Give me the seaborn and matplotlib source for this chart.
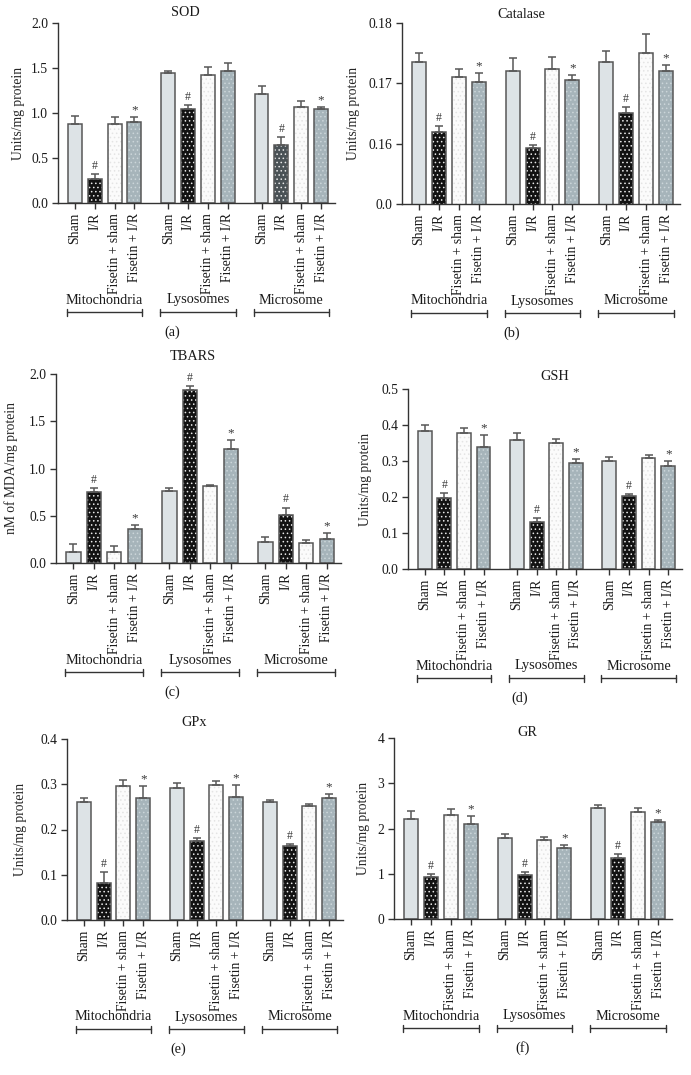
import numpy as np
import pandas as pd
import matplotlib
matplotlib.use("Agg")
import matplotlib.pyplot as plt
import seaborn as sns
from matplotlib.transforms import blended_transform_factory

# ---------------- data ----------------
groups = ["Mitochondria", "Lysosomes", "Microsome"]
treatments = ["Sham", "I/R", "Fisetin + sham", "Fisetin + I/R"]

sod_mean = [0.88, 0.27, 0.88, 0.90, 1.44, 1.05, 1.42, 1.47, 1.21, 0.65, 1.07, 1.04]
sod_err = [0.09, 0.05, 0.08, 0.06, 0.03, 0.04, 0.095, 0.09, 0.09, 0.085, 0.065, 0.025]
sod_marks = ["", "#", "", "*", "", "#", "", "", "", "#", "", "*"]

catalase_mean = [0.1735, 0.1620, 0.1711, 0.1703, 0.1720, 0.1593, 0.1724, 0.1706, 0.1735, 0.1651, 0.1750, 0.1720]
catalase_err = [0.0015, 0.0009, 0.0012, 0.0014, 0.0022, 0.0005, 0.0020, 0.0008, 0.0018, 0.0010, 0.0031, 0.0010]

tbars_mean = [0.12, 0.75, 0.12, 0.36, 0.76, 1.83, 0.81, 1.21, 0.22, 0.51, 0.21, 0.25]
tbars_err = [0.08, 0.04, 0.06, 0.04, 0.03, 0.04, 0.015, 0.09, 0.053, 0.077, 0.032, 0.064]

gsh_mean = [0.383, 0.197, 0.378, 0.339, 0.357, 0.131, 0.350, 0.295, 0.299, 0.203, 0.308, 0.285]
gsh_err = [0.017, 0.015, 0.014, 0.032, 0.021, 0.010, 0.012, 0.011, 0.013, 0.006, 0.008, 0.014]

gpx_mean = [0.261, 0.082, 0.297, 0.270, 0.291, 0.175, 0.299, 0.271, 0.261, 0.163, 0.252, 0.270]
gpx_err = [0.009, 0.023, 0.012, 0.026, 0.011, 0.006, 0.009, 0.027, 0.004, 0.005, 0.005, 0.009]

gr_mean = [2.20, 0.92, 2.30, 2.10, 1.79, 0.97, 1.75, 1.57, 2.46, 1.35, 2.36, 2.14]
gr_err = [0.18, 0.075, 0.14, 0.17, 0.09, 0.075, 0.055, 0.06, 0.05, 0.09, 0.095, 0.045]

all_marks = ["", "#", "", "*"] * 3

# ---------------- style ----------------
sns.set_theme(style="ticks")
plt.rcParams['font.family'] = ['Liberation Serif', 'DejaVu Serif']
plt.rcParams['hatch.linewidth'] = 0.6

W, H = 691, 1075
fig = plt.figure(figsize=(W / 100, H / 100), dpi=100)

fill = {"Sham": "#dde3e6", "I/R": "#121212", "Fisetin + sham": "#fbfbfb", "Fisetin + I/R": "#a6b4ba"}
hatch_col = {"Sham": None, "I/R": "#e8e8e8", "Fisetin + sham": "#e4e4e4", "Fisetin + I/R": "#cbd5d9"}
EDGE = "#575757"
AX = "#333333"

panels = [
    dict(title="SOD", mean=sod_mean, err=sod_err, marks=sod_marks, ylabel="Units/mg protein",
         ylim=(0, 2.0), yticks=[0, 0.5, 1.0, 1.5, 2.0], ylabels=["0.0", "0.5", "1.0", "1.5", "2.0"],
         box=(58, 23, 335, 203), title_xy=(185, 13), ylabel_x=25, letter="(a)", letter_x=172,
         dark_ir=9),
    dict(title="Catalase", mean=catalase_mean, err=catalase_err, marks=all_marks, ylabel="Units/mg protein",
         ylim=(0.15, 0.18), yticks=[0.15, 0.16, 0.17, 0.18], ylabels=["0.0", "0.16", "0.17", "0.18"],
         box=(402, 23, 680, 204), title_xy=(521, 15), ylabel_x=360, letter="(b)", letter_x=512,
         dark_ir=None),
    dict(title="TBARS", mean=tbars_mean, err=tbars_err, marks=all_marks, ylabel="nM of MDA/mg protein",
         ylim=(0, 2.0), yticks=[0, 0.5, 1.0, 1.5, 2.0], ylabels=["0.0", "0.5", "1.0", "1.5", "2.0"],
         box=(56, 374, 341, 563), title_xy=(193, 357), ylabel_x=18, letter="(c)", letter_x=172,
         dark_ir=None),
    dict(title="GSH", mean=gsh_mean, err=gsh_err, marks=all_marks, ylabel="Units/mg protein",
         ylim=(0, 0.5), yticks=[0, 0.1, 0.2, 0.3, 0.4, 0.5], ylabels=["0.0", "0.1", "0.2", "0.3", "0.4", "0.5"],
         box=(408, 389, 682, 569), title_xy=(555, 377), ylabel_x=372, letter="(d)", letter_x=520,
         dark_ir=None),
    dict(title="GPx", mean=gpx_mean, err=gpx_err, marks=all_marks, ylabel="Units/mg protein",
         ylim=(0, 0.4), yticks=[0, 0.1, 0.2, 0.3, 0.4], ylabels=["0.0", "0.1", "0.2", "0.3", "0.4"],
         box=(67, 739, 343, 920), title_xy=(194, 723), ylabel_x=27, letter="(e)", letter_x=178,
         dark_ir=None),
    dict(title="GR", mean=gr_mean, err=gr_err, marks=all_marks, ylabel="Units/mg protein",
         ylim=(0, 4), yticks=[0, 1, 2, 3, 4], ylabels=["0", "1", "2", "3", "4"],
         box=(394, 738, 672, 919), title_xy=(527, 733), ylabel_x=370, letter="(f)", letter_x=523,
         dark_ir=None),
]

GROUP_STEP = 4.7
positions = [g * GROUP_STEP + i for g in range(len(groups)) for i in range(len(treatments))]
treat_col = [t for _ in groups for t in treatments]
group_col = [g for g in groups for _ in treatments]

FS = 9.8

for p in panels:
    x0, y0, x1, y1 = p["box"]
    w_px, h_px = x1 - x0, y1 - y0
    ax = fig.add_axes([x0 / W, 1 - y1 / H, w_px / W, h_px / H])
    df = pd.DataFrame({"pos": positions, "value": p["mean"], "treatment": treat_col, "group": group_col})
    sns.barplot(data=df, x="pos", y="value", native_scale=True, width=0.7, errorbar=None,
                color="white", saturation=1, linewidth=1.1, edgecolor=EDGE, ax=ax, zorder=2)
    bars = sorted(ax.patches, key=lambda b: b.get_x())
    for k, (b, t) in enumerate(zip(bars, treat_col)):
        fc = fill[t]
        if p["dark_ir"] is not None and k == p["dark_ir"]:
            fc = "#4a5256"
        b.set_facecolor(fc)
        b.set_edgecolor(EDGE)
        if hatch_col[t] is not None:
            b.set_hatch("....")
            b._hatch_color = matplotlib.colors.to_rgba(hatch_col[t])
    ax.errorbar(positions, p["mean"], yerr=[np.zeros(len(positions)), p["err"]], fmt="none",
                ecolor=EDGE, elinewidth=1.1, capsize=2.6, capthick=1.1, zorder=3, clip_on=False)
    for xp, m, e, mk in zip(positions, p["mean"], p["err"], p["marks"]):
        if mk:
            ax.annotate(mk, (xp, m + e), xytext=(0, 1.5 if mk == "#" else 0.5), textcoords="offset points",
                        ha="center", va="bottom", fontsize=8.5 if mk == "#" else 9.5, color="#3a3a3a")
    ax.set_xlim(-0.85, 13.1)
    ax.set_ylim(*p["ylim"])
    ax.set_yticks(p["yticks"])
    ax.set_yticklabels(p["ylabels"], fontsize=FS)
    ax.set_xticks(positions)
    ax.set_xticklabels(treat_col, rotation=90, fontsize=FS, ha="center", va="top")
    ax.set_xlabel("")
    ax.set_ylabel(p["ylabel"], fontsize=FS)
    ax.yaxis.set_label_coords((p["ylabel_x"] - x0) / w_px, 0.5)
    sns.despine(ax=ax)
    for s in ("left", "bottom"):
        ax.spines[s].set_color(AX)
        ax.spines[s].set_linewidth(1.0)
    ax.tick_params(axis="both", colors=AX, labelcolor="#1a1a1a", length=4, width=1.0, pad=3)
    ax.set_facecolor("none")
    # title
    fig.text(p["title_xy"][0] / W, 1 - p["title_xy"][1] / H, p["title"], ha="center", va="center",
             fontsize=FS + 0.5, color="#1a1a1a")
    # group labels + brackets
    trans = blended_transform_factory(ax.transData, ax.transAxes)
    yb = -109 / h_px
    ytxt = -97 / h_px
    cap = 3.5 / h_px
    for gi, g in enumerate(groups):
        xa = gi * GROUP_STEP - 0.4
        xb = gi * GROUP_STEP + 3 + 0.4
        ax.plot([xa, xb], [yb, yb], transform=trans, clip_on=False, color=AX, lw=1.0)
        ax.plot([xa, xa], [yb - cap, yb + cap], transform=trans, clip_on=False, color=AX, lw=1.0)
        ax.plot([xb, xb], [yb - cap, yb + cap], transform=trans, clip_on=False, color=AX, lw=1.0)
        ax.text((xa + xb) / 2, ytxt, g, transform=trans, ha="center", va="center", fontsize=FS + 0.5,
                color="#1a1a1a")
    fig.text(p["letter_x"] / W, 1 - (y1 + 129) / H, p["letter"], ha="center", va="center",
             fontsize=FS + 0.5, color="#1a1a1a")

fig.savefig("out.png", dpi=100)
